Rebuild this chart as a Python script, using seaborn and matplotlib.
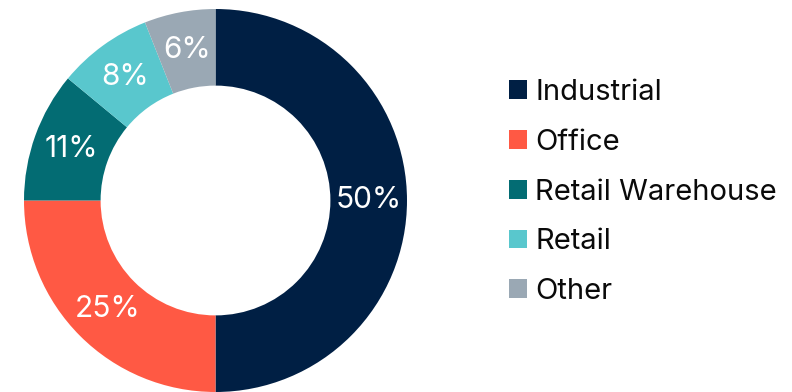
import matplotlib
matplotlib.use("Agg")
import matplotlib.pyplot as plt
from matplotlib.patches import Patch
import numpy as np
import seaborn as sns

categories = ["Industrial", "Office", "Retail Warehouse", "Retail", "Other"]
shares = [50, 25, 11, 8, 6]
hex_colors = ["#001f44", "#ff5944", "#036c73", "#59c7cd", "#9aa8b4"]

sns.set_theme(style="white")
plt.rcParams["font.family"] = ["Inter", "DejaVu Sans"]
plt.rcParams["text.color"] = "#0a0a0a"
palette = sns.color_palette(hex_colors)

W, H = 792, 392
fig = plt.figure(figsize=(W / 100, H / 100), dpi=100)

cx, cy, r_out = 215.5, 200.5, 191.5
ax = fig.add_axes([(cx - r_out) / W, (H - cy - r_out) / H, 2 * r_out / W, 2 * r_out / H])

ring = 0.40
wedges, _ = ax.pie(
    shares,
    colors=palette,
    startangle=90,
    counterclock=False,
    radius=1.0,
    wedgeprops=dict(width=ring, linewidth=0, antialiased=True),
)

mid_r = 1.0 - ring / 2
for w, val in zip(wedges, shares):
    ang = np.deg2rad((w.theta1 + w.theta2) / 2)
    ax.text(mid_r * np.cos(ang), mid_r * np.sin(ang), f"{val}%",
            ha="center", va="center", color="white", fontsize=21.5)

ax.set_xlim(-1, 1)
ax.set_ylim(-1, 1)
ax.set_aspect("equal")
ax.axis("off")

handles = [Patch(facecolor=c, edgecolor="none") for c in palette]
fig.legend(
    handles, categories,
    loc="upper left",
    bbox_to_anchor=(509 / W, 1 - 79 / H),
    frameon=False,
    fontsize=21,
    handlelength=0.62,
    handleheight=0.62,
    handletextpad=0.28,
    labelspacing=0.78,
    borderpad=0,
    borderaxespad=0,
)

fig.savefig("out.png", dpi=100, facecolor="white")
